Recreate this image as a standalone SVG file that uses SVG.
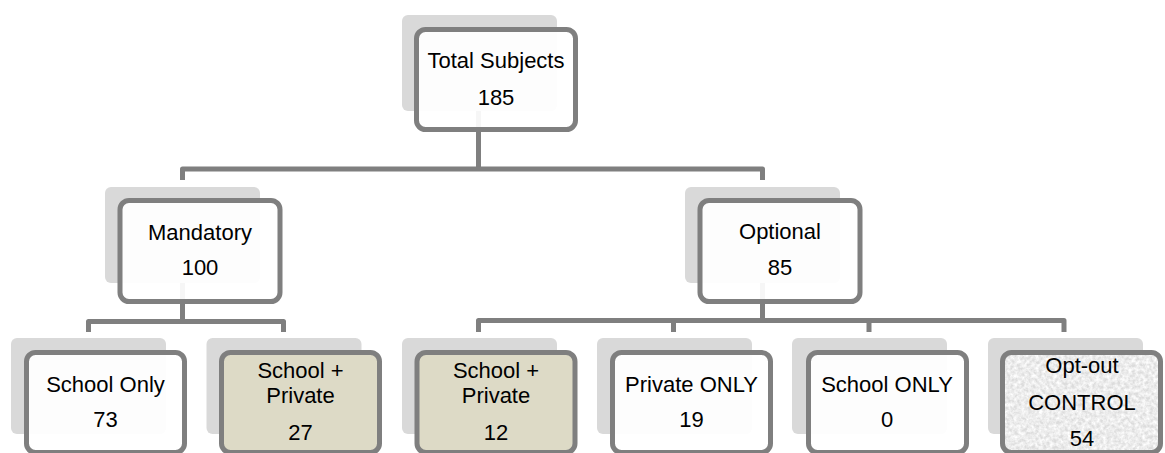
<svg xmlns="http://www.w3.org/2000/svg" width="1165" height="453" viewBox="0 0 1165 453">
<style>
.shadow{fill:#d9d9d9}
.box{fill:#ffffff;fill-opacity:0.93;stroke:#7f7f7f;stroke-width:5}
.tan{fill:#dddac6;stroke:#7f7f7f;stroke-width:5}
.frame{fill:none;stroke:#7f7f7f;stroke-width:5}
.conn{fill:none;stroke:#7f7f7f;stroke-width:5;stroke-linejoin:round}
text{font-family:"Liberation Sans",Arial,sans-serif;font-size:22px;fill:#000;text-anchor:middle}
</style>
<defs>
<filter id="grain" x="0" y="0" width="100%" height="100%">
<feTurbulence type="fractalNoise" baseFrequency="0.28" numOctaves="3" seed="7" result="t"/>
<feColorMatrix in="t" type="matrix" values="0 0 0 0 1  0 0 0 0 1  0 0 0 0 1  1.8 0 0 0 -0.45" result="w"/>
<feComposite in="w" in2="SourceGraphic" operator="in" result="wc"/>
<feMerge><feMergeNode in="SourceGraphic"/><feMergeNode in="wc"/></feMerge>
</filter>
</defs>
<rect width="1165" height="453" fill="#ffffff"/>
<g id="shadows">
<rect class="shadow" x="402" y="15" width="155" height="96" rx="6"/>
<rect class="shadow" x="105" y="187" width="155" height="96" rx="6"/>
<rect class="shadow" x="685" y="187" width="155" height="96" rx="6"/>
<rect class="shadow" x="11" y="338" width="155" height="96" rx="6"/>
<rect class="shadow" x="206.5" y="338" width="155" height="96" rx="6"/>
<rect class="shadow" x="402" y="338" width="155" height="96" rx="6"/>
<rect class="shadow" x="597" y="338" width="155" height="96" rx="6"/>
<rect class="shadow" x="792" y="338" width="155" height="96" rx="6"/>
<rect class="shadow" x="988" y="338" width="155" height="96" rx="6"/>
</g>
<g id="connectors">
<path class="conn" d="M478.5,111 V169"/>
<path class="conn" d="M182.5,180 V169 H762.5 V180"/>
<path class="conn" d="M182.5,283 V321.5"/>
<path class="conn" d="M88.5,332 V321.5 H283.5 V332"/>
<path class="conn" d="M762.5,283 V320.5"/>
<path class="conn" d="M478.5,332 V320.5 H1064 V332"/>
<path class="conn" d="M673.5,320.5 V332"/>
<path class="conn" d="M869,320.5 V332"/>
</g>
<g id="total">
<rect class="box" x="416.5" y="29.5" width="159" height="100" rx="9"/>
<text x="496" y="68">Total Subjects</text>
<text x="496" y="105">185</text>
</g>
<g id="mandatory">
<rect class="box" x="120" y="200.5" width="160" height="101" rx="9"/>
<text x="200" y="240">Mandatory</text>
<text x="200" y="275">100</text>
</g>
<g id="optional">
<rect class="box" x="700" y="200.5" width="160" height="101" rx="9"/>
<text x="780" y="238.5">Optional</text>
<text x="780" y="275">85</text>
</g>
<g id="school-only-m">
<rect class="box" x="26.5" y="352.5" width="158" height="100" rx="9"/>
<text x="105.5" y="391.5">School Only</text>
<text x="105.5" y="426.5">73</text>
</g>
<g id="school-private-m">
<rect class="tan" x="221.5" y="352.5" width="158" height="100" rx="9"/>
<text x="300.5" y="378">School +</text>
<text x="300.5" y="403">Private</text>
<text x="300.5" y="440">27</text>
</g>
<g id="school-private-o">
<rect class="tan" x="417" y="352.5" width="158" height="100" rx="9"/>
<text x="496" y="378">School +</text>
<text x="496" y="403">Private</text>
<text x="496" y="440">12</text>
</g>
<g id="private-only">
<rect class="box" x="612.5" y="352.5" width="158" height="100" rx="9"/>
<text x="691.5" y="391.5">Private ONLY</text>
<text x="691.5" y="426.5">19</text>
</g>
<g id="school-only-o">
<rect class="box" x="808.5" y="352.5" width="158" height="100" rx="9"/>
<text x="887" y="391.5">School ONLY</text>
<text x="887" y="426.5">0</text>
</g>
<g id="opt-out">
<rect x="1002.5" y="352.5" width="158" height="100" rx="9" fill="#dcdcdc" filter="url(#grain)"/>
<rect class="frame" x="1002.5" y="352.5" width="158" height="100" rx="9"/>
<text x="1082" y="373">Opt-out</text>
<text x="1082" y="410">CONTROL</text>
<text x="1082" y="445.5">54</text>
</g>
</svg>
